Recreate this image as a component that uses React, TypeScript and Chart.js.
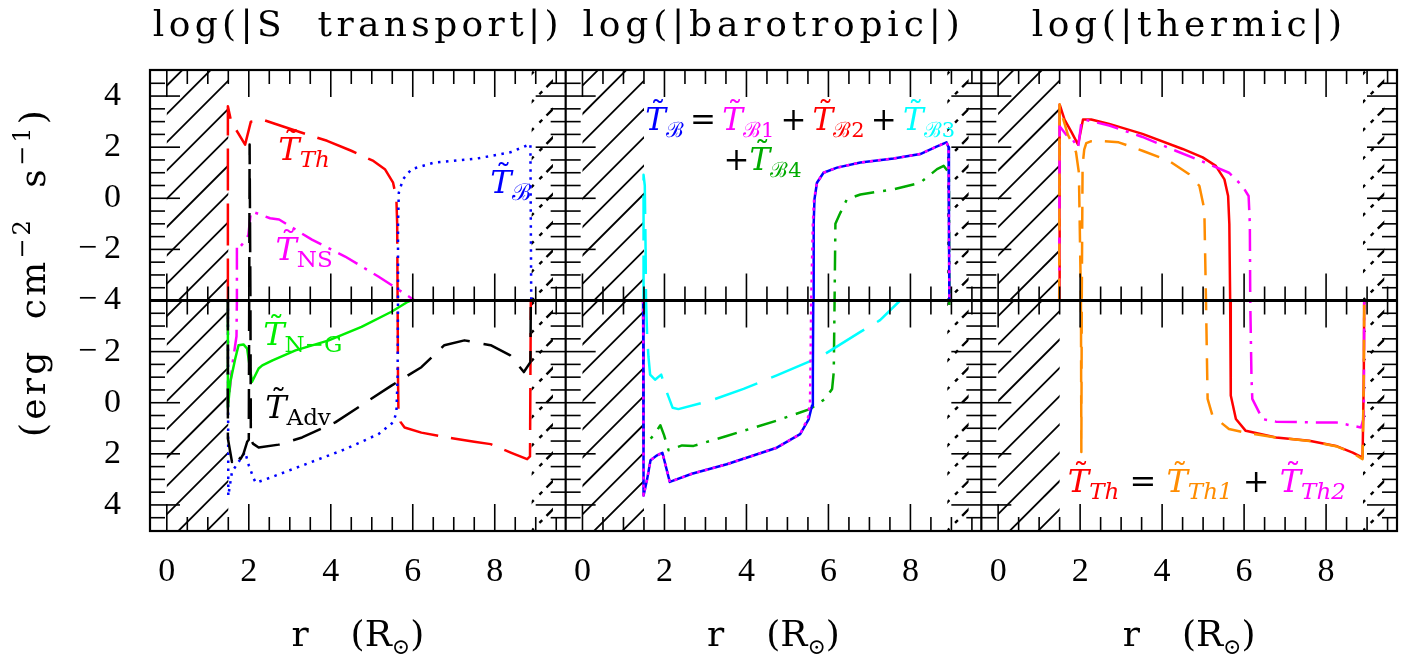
import React, { useEffect, useRef } from "react";
import { Chart, registerables } from "chart.js";

Chart.register(...registerables);

// ---------- axis layout values ----------
const R_MIN = -0.41;
const PANEL_W = 10.14;
const U_LIM = 9.02;
const X_TICK_VALUES = [0, 2, 4, 6, 8];
const Y_TICK_POSITIONS = [8, 6, 4, 2, 0, -2, -4, -6, -8];
const PANEL_TITLES = ["log(|S  transport|)", "log(|barotropic|)", "log(|thermic|)"];
const HATCH_LEFT = [0, 1.5];
const HATCH_RIGHT = [8.9, 9.42];

// ---------- data: r (R_sun), log10|T|, sign of T ----------
// Panel 1 : S transport
const p1ThR = [1.49, 1.49, 1.57, 1.91, 2.05, 2.35, 2.8, 3.46, 3.91, 4.5, 5.04, 5.32, 5.52, 5.6, 5.62, 5.63, 5.64, 5.65, 5.7, 5.8, 6.21, 7.0, 7.5, 7.9, 8.39, 8.79, 8.86, 8.87, 8.88];
const p1ThLg = [-4, 3.6, 3.0, 2.1, 3.0, 3.07, 2.83, 2.48, 2.25, 1.86, 1.46, 1.14, 0.61, 0.0, -1.0, -4, -1.0, 0.3, 0.75, 0.97, 1.17, 1.4, 1.53, 1.62, 1.95, 2.21, 2.1, -1.0, -4];
const p1ThSg = "++++++++++++++++-------------";

const p1BR = [1.49, 1.5, 1.59, 1.75, 1.91, 2.0, 2.12, 2.17, 2.41, 3.38, 4.35, 5.16, 5.52, 5.6, 5.63, 5.64, 5.64, 5.66, 5.76, 5.97, 6.53, 7.58, 8.38, 8.87, 8.88, 8.89];
const p1BLg = [-4, 3.65, 2.7, 2.32, 1.93, 2.45, 2.97, 3.13, 3.0, 2.41, 1.82, 1.23, 0.77, 0.4, -1.0, -4, -1.0, 0.22, 0.74, 1.14, 1.4, 1.56, 1.8, 2.12, -1.0, -4];
const p1BSg = "----------------++++++++++";

const p1NsR = [1.49, 1.49, 1.6, 1.7, 1.71, 1.71, 1.79, 1.93, 1.99, 2.05, 2.08, 2.52, 2.74, 3.54, 4.35, 5.16, 5.6, 6.05];
const p1NsLg = [-4, 0.2, -1.5, -2.6, -4, -1.82, -1.9, -1.62, -1.43, -0.54, -0.52, -0.78, -0.83, -1.62, -2.28, -3.06, -3.52, -4];
const p1NsSg = "-----+++++++++++++";

const p1NgR = [1.49, 1.49, 1.55, 1.67, 1.75, 1.87, 1.96, 2.04, 2.08, 2.24, 2.33, 2.58, 3.14, 3.95, 4.75, 5.48, 5.88, 5.95];
const p1NgLg = [-4, 0.2, -0.82, -1.73, -2.25, -2.28, -2.12, -1.21, -0.82, -1.34, -1.46, -1.66, -2.05, -2.44, -2.97, -3.56, -3.95, -4];
const p1NgSg = "------------------";

const p1AdvR = [1.49, 1.49, 1.59, 1.66, 1.8, 1.87, 1.96, 2.0, 2.01, 2.02, 2.04, 2.05, 2.1, 2.24, 2.73, 3.3, 4.11, 5.48, 6.21, 6.77, 7.26, 7.9, 8.38, 8.71, 8.87, 8.88];
const p1AdvLg = [-4, 1.4, 2.32, 2.0, 2.2, 2.0, 1.53, 1.45, -4, 2.1, -4, 1.4, 1.6, 1.75, 1.64, 1.36, 0.77, -0.67, -1.39, -2.25, -2.44, -2.25, -1.85, -1.2, -1.59, -4];
const p1AdvSg = "---------+----------------";

// Panel 2 : barotropic
const p2BR = [1.48, 1.49, 1.58, 1.66, 1.82, 1.95, 2.13, 2.67, 3.52, 4.74, 5.31, 5.52, 5.6, 5.62, 5.63, 5.64, 5.66, 5.72, 5.88, 6.21, 6.78, 7.59, 8.24, 8.65, 8.88, 8.93, 8.94, 8.95];
const p2BLg = [-4, 3.63, 2.97, 2.25, 2.06, 1.96, 3.1, 2.78, 2.41, 1.76, 1.23, 0.64, 0.11, -1.0, -4, -1.0, -0.04, 0.61, 1.0, 1.2, 1.4, 1.56, 1.73, 2.03, 2.19, 2.0, -1.0, -4];
const p2BSg = "---------------+++++++++++++";

const p2B1R = [1.48, 1.49, 1.58, 1.66, 1.82, 1.95, 2.13, 2.67, 3.52, 4.74, 5.31, 5.5, 5.55, 5.56, 5.58, 5.62, 5.65, 5.72, 5.88, 6.21, 6.78, 7.59, 8.24, 8.65, 8.88, 8.93, 8.94, 8.95];
const p2B1Lg = [-4, 3.63, 2.97, 2.25, 2.06, 1.96, 3.1, 2.78, 2.41, 1.76, 1.23, 0.6, 0.0, -1.0, -4, -1.0, -0.04, 0.61, 1.0, 1.2, 1.4, 1.56, 1.73, 2.03, 2.19, 2.0, -1.0, -4];
const p2B1Sg = "---------------+++++++++++++";

const p2B3R = [1.49, 1.49, 1.52, 1.54, 1.55, 1.58, 1.61, 1.65, 1.77, 1.92, 2.06, 2.2, 2.34, 3.12, 3.93, 4.74, 5.8, 6.78, 7.26, 7.75];
const p2B3Lg = [-4, 0.92, 0.5, -2.0, -4, -2.5, -1.8, -1.1, -0.9, -1.1, -0.4, 0.2, 0.25, -0.08, -0.54, -1.07, -1.79, -2.77, -3.23, -4];
const p2B3Sg = "+++++---------------";

const p2B4R = [1.48, 1.49, 1.58, 1.74, 1.9, 1.99, 2.1, 2.43, 2.71, 3.52, 4.74, 5.56, 5.92, 6.09, 6.13, 6.15, 6.17, 6.29, 6.45, 6.78, 7.59, 8.24, 8.65, 8.81, 8.94, 8.95, 8.95];
const p2B4Lg = [-4, 1.6, 1.55, 1.27, 0.88, 1.27, 1.86, 1.67, 1.69, 1.3, 0.7, 0.24, -0.15, -0.54, -1.2, -4, -1.0, -0.57, -0.04, 0.15, 0.35, 0.61, 1.14, 1.27, 1.0, -4, -3.6];
const p2B4Sg = "----------------+++++++++--";

// Panel 3 : thermic
const p3ThR = [1.49, 1.5, 1.62, 1.78, 1.95, 2.07, 2.27, 2.71, 3.52, 4.5, 4.99, 5.31, 5.52, 5.61, 5.64, 5.66, 5.67, 5.68, 5.8, 6.04, 6.78, 7.59, 8.24, 8.65, 8.89, 8.92, 8.93];
const p3ThLg = [-4, 3.67, 3.08, 2.62, 2.1, 3.08, 3.08, 2.91, 2.52, 1.93, 1.6, 1.27, 0.74, 0.09, -1.0, -4, -1.0, -0.28, 0.64, 1.1, 1.36, 1.49, 1.69, 1.95, 2.15, -1.0, -4];
const p3ThSg = "++++++++++++++++-----------";

const p3Th1R = [1.49, 1.5, 1.57, 1.7, 1.82, 1.9, 1.97, 2.02, 2.03, 2.04, 2.06, 2.1, 2.15, 2.26, 2.46, 2.94, 3.52, 4.17, 4.66, 4.91, 5.03, 5.07, 5.11, 5.23, 5.63, 6.04, 6.78, 7.59, 8.24, 8.65, 8.89, 8.92, 8.93];
const p3Th1Lg = [-4, 3.67, 3.2, 2.49, 2.1, 1.8, 1.0, -4, 1.93, -4, 1.3, 1.9, 2.16, 2.23, 2.25, 2.19, 1.86, 1.46, 0.94, 0.48, -0.44, -4, -0.15, 0.51, 1.03, 1.17, 1.36, 1.5, 1.7, 1.97, 2.21, -1.0, -4];
const p3Th1Sg = "++++++++-+++++++++++++-----------";

const p3Th2R = [1.49, 1.5, 1.66, 1.82, 1.95, 2.03, 2.1, 2.71, 3.52, 4.33, 5.15, 5.63, 5.96, 6.11, 6.14, 6.15, 6.18, 6.2, 6.45, 6.78, 7.59, 8.24, 8.65, 8.85, 8.92, 8.93];
const p3Th2Lg = [-4, 2.82, 2.49, 2.29, 1.97, 2.96, 3.08, 2.85, 2.4, 1.86, 1.33, 1.0, 0.48, 0.09, -1.0, -4, -1.0, -0.15, 0.64, 0.74, 0.77, 0.77, 0.9, 0.97, 0.6, -4];
const p3Th2Sg = "++++++++++++++++----------";

// ---------- styles ----------
const RED = "#ff0000";
const BLUE = "#0000ff";
const MAGENTA = "#ff00ff";
const LIME = "#00ee00";
const GREEN = "#00aa00";
const CYAN = "#00ffff";
const ORANGE = "#ff8c00";
const BLACK = "#000000";

const SERIES = [
  { panel: 0, r: p1AdvR, lg: p1AdvLg, sg: p1AdvSg, color: BLACK, dash: [30, 14] },
  { panel: 0, r: p1NgR, lg: p1NgLg, sg: p1NgSg, color: LIME, dash: [] },
  { panel: 0, r: p1NsR, lg: p1NsLg, sg: p1NsSg, color: MAGENTA, dash: [22, 8, 3, 8] },
  { panel: 0, r: p1BR, lg: p1BLg, sg: p1BSg, color: BLUE, dash: [2.5, 5.5] },
  { panel: 0, r: p1ThR, lg: p1ThLg, sg: p1ThSg, color: RED, dash: [42, 13] },
  { panel: 1, r: p2B1R, lg: p2B1Lg, sg: p2B1Sg, color: MAGENTA, dash: [3, 5] },
  { panel: 1, r: p2BR, lg: p2BLg, sg: p2BSg, color: BLUE, dash: [] },
  { panel: 1, r: p2B3R, lg: p2B3Lg, sg: p2B3Sg, color: CYAN, dash: [45, 15] },
  { panel: 1, r: p2B4R, lg: p2B4Lg, sg: p2B4Sg, color: GREEN, dash: [20, 9, 3, 9] },
  { panel: 2, r: p3Th1R, lg: p3Th1Lg, sg: p3Th1Sg, color: ORANGE, dash: [22, 13] },
  { panel: 2, r: p3Th2R, lg: p3Th2Lg, sg: p3Th2Sg, color: MAGENTA, dash: [22, 8, 3, 8] },
  { panel: 2, r: p3ThR, lg: p3ThLg, sg: p3ThSg, color: RED, dash: [] },
];

// plotted coordinate: positive values in upper box, negative in lower box, clipped at log = -4
const toU = (lg: number, s: string) => (s === "-" ? -1 : 1) * (Math.max(lg, -4) + 4);

const buildPoints = (s: any) => {
  let last = "+";
  return s.r.map((r: number, i: number) => {
    const c = s.sg[i] || last;
    last = c;
    return { x: r + s.panel * PANEL_W, y: toU(s.lg[i], c) };
  });
};

// ---------- text helpers ----------
const SERIF = "'DejaVu Serif', 'Liberation Serif', serif";
const TICK_FONT = "'Liberation Serif', 'DejaVu Serif', serif";
type Run = { t: string; size: number; italic?: boolean; color?: string; dy?: number; tilde?: boolean; ls?: number; gap?: number };
const fontOf = (r: Run) => `${r.italic ? "italic " : ""}${r.size}px ${SERIF}`;

function runsWidth(ctx: CanvasRenderingContext2D, runs: Run[]) {
  let w = 0;
  for (const r of runs) {
    ctx.font = fontOf(r);
    w += ctx.measureText(r.t).width + (r.ls || 0) * r.t.length + (r.gap || 0);
  }
  return w;
}

function fitRuns(ctx: CanvasRenderingContext2D, runs: Run[], target: number) {
  const base = runs.map((r) => ({ ...r, ls: 0 }));
  const w0 = runsWidth(ctx, base);
  const n = base.reduce((a, r) => a + r.t.length, 0);
  const ls = (target - w0) / Math.max(1, n);
  return base.map((r) => ({ ...r, ls }));
}

function drawRuns(ctx: CanvasRenderingContext2D, runs: Run[], x: number, y: number, align: "left" | "center") {
  let cx = align === "center" ? x - runsWidth(ctx, runs) / 2 : x;
  ctx.textAlign = "left";
  ctx.textBaseline = "alphabetic";
  for (const r of runs) {
    ctx.font = fontOf(r);
    ctx.fillStyle = r.color || BLACK;
    const yy = y + (r.dy || 0);
    const ls = r.ls || 0;
    if (ls) {
      for (const ch of r.t) {
        ctx.fillText(ch, cx, yy);
        cx += ctx.measureText(ch).width + ls;
      }
    } else {
      ctx.fillText(r.t, cx, yy);
      const w = ctx.measureText(r.t).width;
      if (r.tilde) {
        ctx.font = `${r.size}px ${SERIF}`;
        const tw = ctx.measureText("\u02dc").width;
        ctx.fillText("\u02dc", cx + w * 0.62 - tw / 2, yy - r.size * 0.22);
      }
      cx += w;
    }
    cx += r.gap || 0;
  }
}

const T_SIZE = 32;
const SUB_SIZE = 23;
const tl = (color: string, sub: string, subItalic = false, size = T_SIZE, subSize = SUB_SIZE): Run[] => [
  { t: "T", size, italic: true, color, tilde: true },
  { t: sub, size: subSize, italic: subItalic, color, dy: 7 },
];
const op = (t: string, size = T_SIZE): Run => ({ t, size, color: BLACK });

const LABELS: { panel: number; r: number; u: number; runs: Run[] }[] = [
  { panel: 0, r: 2.72, u: 5.51, runs: tl(RED, "Th", true) },
  { panel: 0, r: 7.89, u: 4.22, runs: tl(BLUE, "\u212c") },
  { panel: 0, r: 2.65, u: 1.59, runs: tl(MAGENTA, "NS") },
  { panel: 0, r: 2.35, u: -1.75, runs: tl(LIME, "N\u2212G") },
  { panel: 0, r: 2.4, u: -4.6, runs: tl(BLACK, "Adv") },
  {
    panel: 1, r: 1.53, u: 6.69,
    runs: [
      ...tl(BLUE, "\u212c", false, 31, 21), op("\u2009=\u2009", 31),
      ...tl(MAGENTA, "\u212c1", false, 31, 21), op("\u2009+\u2009", 31),
      ...tl(RED, "\u212c2", false, 31, 21), op("\u2009+\u2009", 31),
      ...tl(CYAN, "\u212c3", false, 31, 21),
    ],
  },
  { panel: 1, r: 3.44, u: 5.12, runs: [op("+", 31), ...tl(GREEN, "\u212c4", false, 31, 21)] },
  {
    panel: 2, r: 1.7, u: -7.5,
    runs: [...tl(RED, "Th", true), op(" = "), ...tl(ORANGE, "Th1", true), op(" + "), ...tl(MAGENTA, "Th2", true)],
  },
];

const TITLE_WIDTHS = [410, 382, 315];

const decorPlugin = {
  id: "decor",
  beforeDatasetsDraw(chart: any) {
    const ctx: CanvasRenderingContext2D = chart.ctx;
    const xs = chart.scales.x;
    const ys = chart.scales.y;
    const xOf = (k: number, r: number) => xs.getPixelForValue(r + k * PANEL_W);
    const { top, bottom } = chart.chartArea;
    const ym = ys.getPixelForValue(0);
    const sp = 28.3;
    const hatch = (x0: number, x1: number, y0: number, y1: number, dashed: boolean) => {
      ctx.save();
      ctx.beginPath();
      ctx.rect(x0, y0, x1 - x0, y1 - y0);
      ctx.clip();
      ctx.strokeStyle = BLACK;
      ctx.lineWidth = dashed ? 2.4 : 1.8;
      ctx.setLineDash(dashed ? [12, 6, 4, 8] : []);
      const d = x1 - x0 + 10;
      for (let y = y0 + 10.7 - sp * 6; y < y1 + sp; y += sp) {
        ctx.beginPath();
        ctx.moveTo(x1 + 2, y - 2);
        ctx.lineTo(x1 - d, y + d);
        ctx.stroke();
      }
      ctx.restore();
    };
    for (let k = 0; k < 3; k++) {
      for (const [y0, y1] of [[top, ym], [ym, bottom]]) {
        hatch(xOf(k, HATCH_LEFT[0]), xOf(k, HATCH_LEFT[1]), y0, y1, false);
        hatch(xOf(k, HATCH_RIGHT[0]), xOf(k, HATCH_RIGHT[1]), y0, y1, true);
      }
    }
  },
  afterDatasetsDraw(chart: any) {
    const ctx: CanvasRenderingContext2D = chart.ctx;
    const xs = chart.scales.x;
    const ys = chart.scales.y;
    const xOf = (k: number, r: number) => xs.getPixelForValue(r + k * PANEL_W);
    const yOf = (u: number) => ys.getPixelForValue(u);
    const { left, right, top, bottom } = chart.chartArea;
    const ym = yOf(0);
    ctx.save();
    ctx.strokeStyle = BLACK;
    ctx.setLineDash([]);
    const line = (a: number, b: number, c: number, d: number) => {
      ctx.beginPath();
      ctx.moveTo(a, b);
      ctx.lineTo(c, d);
      ctx.stroke();
    };
    // ticks
    ctx.lineWidth = 1.6;
    for (let k = 0; k < 3; k++) {
      const xl = xOf(k, R_MIN);
      const xr = xOf(k, R_MIN + PANEL_W);
      for (let i = 0; i <= 19; i++) {
        const px = xOf(k, i * 0.5);
        const L = i % 4 === 0 ? 27 : 14;
        line(px, top, px, top + L);
        line(px, ym, px, ym - L);
        line(px, ym, px, ym + L);
        line(px, bottom, px, bottom - L);
      }
      for (let j = -17; j <= 17; j++) {
        if (j === 0) continue;
        const py = yOf(j * 0.5);
        const L = j % 4 === 0 ? 30 : 15;
        line(xl, py, xl + L, py);
        line(xr, py, xr - L, py);
      }
    }
    // frames
    ctx.lineWidth = 2.2;
    ctx.strokeRect(left, top, right - left, bottom - top);
    for (let k = 1; k < 3; k++) {
      const x = xOf(k, R_MIN);
      line(x, top, x, bottom);
    }
    ctx.lineWidth = 2.8;
    line(left, ym, right, ym);
    ctx.restore();

    // annotations
    ctx.save();
    for (const lab of LABELS) {
      drawRuns(ctx, lab.runs, xOf(lab.panel, lab.r), yOf(lab.u), "left");
    }
    // panel titles
    for (let k = 0; k < 3; k++) {
      const cx = xOf(k, R_MIN + PANEL_W / 2);
      const runs = fitRuns(ctx, [{ t: PANEL_TITLES[k], size: 36 }], TITLE_WIDTHS[k]);
      drawRuns(ctx, runs, cx, 36, "center");
      // x axis title
      drawRuns(
        ctx,
        [
          { t: "r", size: 36, gap: 42 },
          { t: "(R", size: 36 },
          { t: "\u2299", size: 22, dy: 8 },
          { t: ")", size: 36 },
        ],
        cx,
        646,
        "center"
      );
    }
    // y axis title
    ctx.translate(45, 272);
    ctx.rotate(-Math.PI / 2);
    const yRuns = fitRuns(
      ctx,
      [
        { t: "(erg  cm", size: 36 },
        { t: "\u22122", size: 24, dy: -15 },
        { t: "  s", size: 36 },
        { t: "\u22121", size: 24, dy: -15 },
        { t: ")", size: 36 },
      ],
      330
    );
    drawRuns(ctx, yRuns, 0, 0, "center");
    ctx.restore();
  },
};

const xTickLabel = (v: number) => {
  const k = Math.floor((v - R_MIN) / PANEL_W);
  return String(Math.round(v - k * PANEL_W));
};
const yTickLabel = (v: number) => {
  const lg = Math.round(Math.abs(v) - 4);
  return lg < 0 ? "\u2212\u2009" + String(-lg) : String(lg);
};

export default function App() {
  const ref = useRef<HTMLCanvasElement | null>(null);
  useEffect(() => {
    if (!ref.current) return;
    const chart = new Chart(ref.current, {
      type: "scatter",
      data: {
        datasets: SERIES.map((s) => ({
          data: buildPoints(s),
          showLine: true,
          borderColor: s.color,
          backgroundColor: s.color,
          borderWidth: 2.5,
          borderDash: s.dash,
          borderCapStyle: "butt",
          borderJoinStyle: "round",
          pointRadius: 0,
          tension: 0,
        })),
      },
      options: {
        responsive: false,
        animation: false,
        devicePixelRatio: 1,
        events: [],
        layout: { padding: { left: 0, top: 70, right: 26, bottom: 0 } },
        plugins: { legend: { display: false }, tooltip: { enabled: false }, title: { display: false } },
        scales: {
          x: {
            type: "linear",
            min: R_MIN,
            max: R_MIN + 3 * PANEL_W,
            grid: { display: false, drawTicks: false },
            border: { display: false },
            afterBuildTicks: (s: any) => {
              const t: any[] = [];
              for (let k = 0; k < 3; k++) for (const v of X_TICK_VALUES) t.push({ value: v + k * PANEL_W });
              s.ticks = t;
            },
            afterFit: (s: any) => {
              s.height = 129;
            },
            ticks: {
              autoSkip: false,
              maxRotation: 0,
              padding: 21,
              color: BLACK,
              font: { family: TICK_FONT, size: 34 },
              callback: (v: any) => xTickLabel(Number(v)),
            },
          },
          y: {
            type: "linear",
            min: -U_LIM,
            max: U_LIM,
            grid: { display: false, drawTicks: false },
            border: { display: false },
            afterBuildTicks: (s: any) => {
              s.ticks = Y_TICK_POSITIONS.map((v) => ({ value: v }));
            },
            afterFit: (s: any) => {
              s.width = 150;
            },
            ticks: {
              autoSkip: false,
              padding: 29,
              color: BLACK,
              font: { family: TICK_FONT, size: 34 },
              callback: (v: any) => yTickLabel(Number(v)),
            },
          },
        },
      },
      plugins: [decorPlugin],
    } as any);
    return () => chart.destroy();
  }, []);
  return (
    <div style={{ position: "fixed", left: 0, top: 0, width: 1423, height: 660, background: "#fff" }}>
      <canvas ref={ref} width={1423} height={660} style={{ display: "block" }} />
    </div>
  );
}
